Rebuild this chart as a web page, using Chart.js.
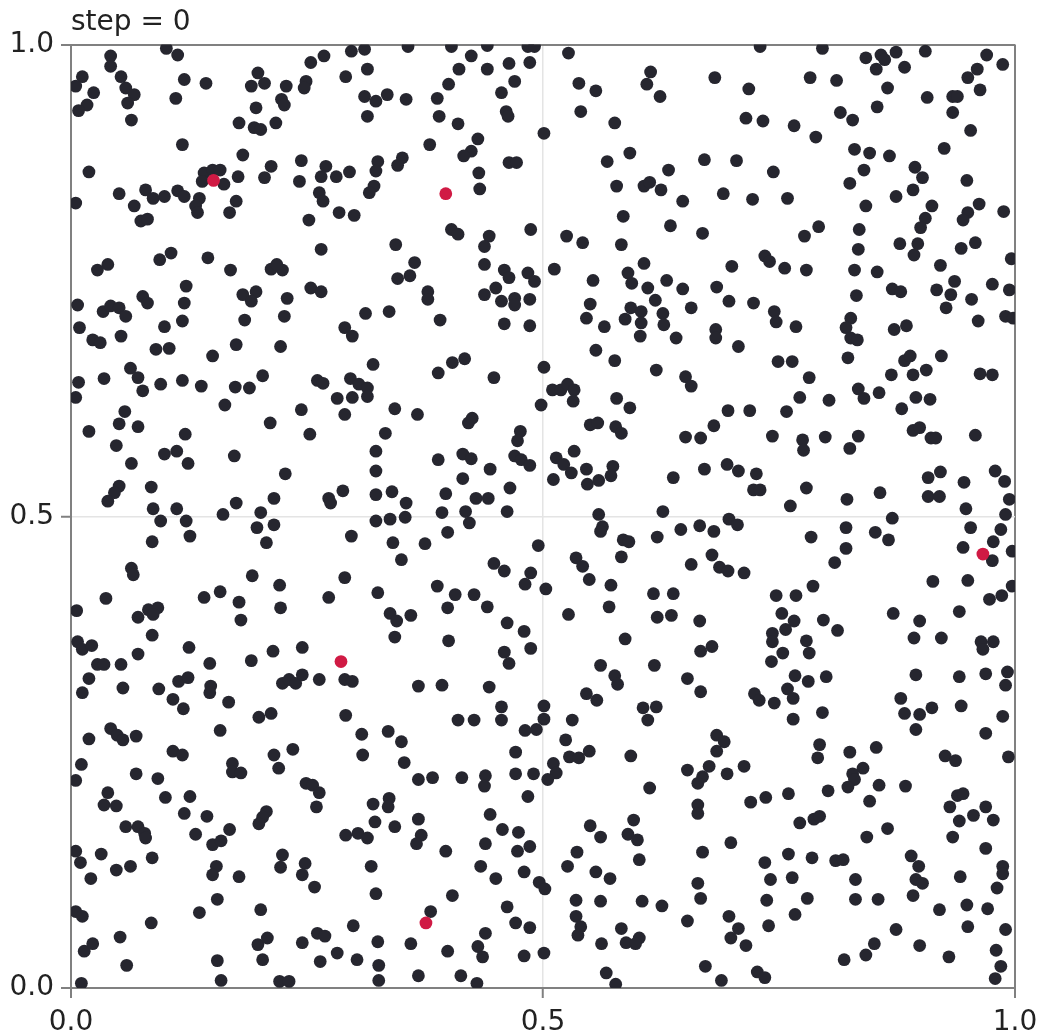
<!DOCTYPE html>
<html>
<head>
<meta charset="utf-8">
<script src="https://cdn.jsdelivr.net/npm/chart.js@4"></script>
<style>
  html, body { margin: 0; padding: 0; background: #ffffff; }
  #wrap { width: 1041px; height: 1034px; }
</style>
</head>
<body>
<div id="wrap"><canvas id="c" width="1041" height="1034"></canvas></div>
<script>
const titleText = 'step = 0';
const tickValues = [0, 0.5, 1];

// black particles [x, y]
const dots = [
[0.101,0.996],[0.113,0.989],[0.042,0.988],[0.042,0.977],[0.012,0.966],[0.005,0.956],[0.024,0.949],[0.017,0.936],[0.008,0.930],[0.053,0.966],
[0.058,0.954],[0.067,0.947],[0.060,0.938],[0.064,0.920],[0.120,0.963],[0.143,0.959],[0.111,0.943],[0.198,0.970],[0.205,0.959],[0.191,0.956],
[0.228,0.956],[0.223,0.942],[0.226,0.936],[0.196,0.933],[0.178,0.917],[0.194,0.912],[0.201,0.910],[0.217,0.917],[0.254,0.981],[0.268,0.988],
[0.249,0.961],[0.247,0.954],[0.297,0.993],[0.311,0.995],[0.314,0.974],[0.291,0.966],[0.311,0.945],[0.323,0.940],[0.314,0.924],[0.118,0.894],
[0.182,0.883],[0.019,0.865],[0.212,0.871],[0.205,0.859],[0.244,0.877],[0.242,0.855],[0.270,0.871],[0.265,0.860],[0.281,0.860],[0.295,0.865],
[0.325,0.876],[0.323,0.866],[0.321,0.850],[0.316,0.843],[0.141,0.864],[0.150,0.867],[0.158,0.867],[0.139,0.855],[0.162,0.852],[0.177,0.860],
[0.051,0.842],[0.079,0.846],[0.087,0.837],[0.099,0.839],[0.113,0.845],[0.120,0.839],[0.136,0.837],[0.132,0.829],[0.134,0.822],[0.175,0.834],
[0.168,0.822],[0.067,0.829],[0.074,0.813],[0.081,0.815],[0.005,0.832],[0.263,0.843],[0.267,0.834],[0.252,0.814],[0.284,0.822],[0.300,0.819],
[0.265,0.783],[0.145,0.774],[0.106,0.779],[0.094,0.772],[0.169,0.761],[0.212,0.762],[0.224,0.761],[0.218,0.767],[0.039,0.767],[0.028,0.761],
[0.122,0.744],[0.076,0.733],[0.081,0.726],[0.120,0.726],[0.182,0.735],[0.196,0.738],[0.191,0.728],[0.229,0.731],[0.254,0.742],[0.265,0.738],
[0.007,0.724],[0.034,0.717],[0.042,0.723],[0.051,0.721],[0.058,0.712],[0.118,0.707],[0.184,0.708],[0.226,0.712],[0.312,0.715],[0.009,0.700],
[0.023,0.687],[0.031,0.684],[0.053,0.691],[0.099,0.701],[0.090,0.677],[0.104,0.678],[0.175,0.682],[0.222,0.680],[0.290,0.700],[0.298,0.691],
[0.357,0.998],[0.403,0.998],[0.441,0.999],[0.484,0.998],[0.491,0.998],[0.424,0.988],[0.411,0.974],[0.441,0.974],[0.464,0.980],[0.486,0.981],
[0.470,0.961],[0.456,0.949],[0.400,0.958],[0.388,0.943],[0.355,0.942],[0.335,0.947],[0.390,0.924],[0.410,0.916],[0.461,0.929],[0.463,0.924],
[0.501,0.906],[0.380,0.894],[0.431,0.900],[0.424,0.887],[0.416,0.882],[0.351,0.880],[0.346,0.872],[0.464,0.875],[0.472,0.875],[0.432,0.864],
[0.433,0.847],[0.403,0.804],[0.410,0.799],[0.487,0.804],[0.443,0.797],[0.438,0.786],[0.344,0.788],[0.364,0.769],[0.359,0.755],[0.346,0.752],
[0.438,0.767],[0.459,0.761],[0.464,0.753],[0.484,0.758],[0.491,0.749],[0.512,0.762],[0.450,0.742],[0.438,0.735],[0.456,0.728],[0.470,0.731],
[0.470,0.724],[0.486,0.730],[0.378,0.738],[0.378,0.730],[0.337,0.717],[0.391,0.708],[0.459,0.704],[0.486,0.702],[0.527,0.991],[0.538,0.959],
[0.556,0.951],[0.540,0.929],[0.576,0.917],[0.614,0.971],[0.610,0.958],[0.624,0.945],[0.568,0.876],[0.592,0.885],[0.633,0.867],[0.578,0.850],
[0.607,0.850],[0.613,0.854],[0.625,0.846],[0.648,0.834],[0.585,0.818],[0.635,0.808],[0.525,0.797],[0.542,0.790],[0.583,0.788],[0.607,0.768],
[0.590,0.758],[0.594,0.747],[0.553,0.750],[0.611,0.742],[0.631,0.750],[0.648,0.741],[0.619,0.729],[0.550,0.725],[0.546,0.710],[0.593,0.721],
[0.604,0.717],[0.587,0.709],[0.604,0.705],[0.627,0.715],[0.628,0.703],[0.657,0.721],[0.565,0.701],[0.603,0.691],[0.641,0.689],[0.556,0.676],
[0.730,0.998],[0.796,0.996],[0.842,0.986],[0.858,0.989],[0.862,0.984],[0.853,0.974],[0.874,0.992],[0.883,0.976],[0.905,0.993],[0.970,0.989],
[0.987,0.979],[0.960,0.974],[0.950,0.965],[0.963,0.952],[0.934,0.945],[0.939,0.945],[0.934,0.928],[0.907,0.944],[0.865,0.954],[0.854,0.934],
[0.953,0.909],[0.925,0.890],[0.682,0.965],[0.718,0.953],[0.783,0.965],[0.811,0.962],[0.815,0.928],[0.828,0.920],[0.715,0.922],[0.733,0.919],
[0.766,0.914],[0.789,0.902],[0.830,0.889],[0.846,0.885],[0.867,0.882],[0.671,0.878],[0.705,0.877],[0.744,0.865],[0.840,0.867],[0.825,0.853],
[0.894,0.870],[0.902,0.859],[0.892,0.846],[0.874,0.839],[0.949,0.856],[0.691,0.842],[0.722,0.836],[0.759,0.837],[0.842,0.829],[0.912,0.829],
[0.905,0.816],[0.900,0.806],[0.962,0.831],[0.950,0.822],[0.945,0.814],[0.988,0.823],[0.669,0.800],[0.777,0.797],[0.792,0.807],[0.835,0.804],
[0.834,0.783],[0.878,0.789],[0.897,0.789],[0.893,0.777],[0.943,0.784],[0.958,0.790],[0.996,0.773],[0.735,0.776],[0.740,0.770],[0.756,0.763],
[0.779,0.761],[0.700,0.765],[0.830,0.761],[0.854,0.759],[0.921,0.766],[0.684,0.743],[0.697,0.728],[0.723,0.726],[0.745,0.717],[0.747,0.706],
[0.768,0.701],[0.683,0.698],[0.683,0.689],[0.707,0.680],[0.832,0.734],[0.870,0.741],[0.879,0.738],[0.917,0.740],[0.936,0.749],[0.932,0.735],
[0.927,0.721],[0.954,0.730],[0.976,0.746],[0.994,0.740],[0.990,0.712],[0.998,0.710],[0.961,0.707],[0.826,0.710],[0.821,0.700],[0.826,0.689],
[0.833,0.687],[0.872,0.698],[0.885,0.702],
[0.150,0.670],[0.008,0.642],[0.005,0.626],[0.035,0.646],[0.063,0.657],[0.071,0.647],[0.076,0.633],[0.095,0.640],[0.118,0.644],[0.138,0.638],
[0.163,0.618],[0.174,0.637],[0.189,0.636],[0.203,0.649],[0.211,0.599],[0.244,0.613],[0.253,0.587],[0.261,0.644],[0.267,0.641],[0.296,0.646],
[0.305,0.640],[0.314,0.636],[0.314,0.627],[0.282,0.625],[0.298,0.626],[0.290,0.608],[0.320,0.661],[0.323,0.569],[0.323,0.548],[0.323,0.523],
[0.323,0.495],[0.019,0.590],[0.057,0.611],[0.051,0.598],[0.071,0.595],[0.048,0.575],[0.064,0.556],[0.099,0.566],[0.112,0.569],[0.121,0.587],
[0.124,0.556],[0.173,0.564],[0.227,0.545],[0.051,0.532],[0.046,0.525],[0.039,0.516],[0.085,0.531],[0.087,0.508],[0.095,0.495],[0.112,0.508],
[0.122,0.495],[0.126,0.479],[0.086,0.473],[0.161,0.502],[0.175,0.514],[0.201,0.504],[0.215,0.519],[0.197,0.488],[0.215,0.491],[0.207,0.472],
[0.273,0.519],[0.275,0.514],[0.288,0.527],[0.297,0.479],[0.064,0.445],[0.066,0.438],[0.192,0.437],[0.221,0.427],[0.290,0.435],[0.037,0.413],
[0.006,0.400],[0.141,0.414],[0.158,0.420],[0.178,0.409],[0.180,0.390],[0.222,0.403],[0.273,0.414],[0.325,0.419],[0.082,0.401],[0.092,0.403],
[0.087,0.396],[0.071,0.393],[0.086,0.374],[0.007,0.367],[0.012,0.359],[0.022,0.363],[0.028,0.343],[0.035,0.343],[0.053,0.343],[0.071,0.354],
[0.125,0.361],[0.147,0.344],[0.191,0.347],[0.214,0.357],[0.245,0.361],
[0.417,0.667],[0.404,0.663],[0.389,0.652],[0.448,0.647],[0.501,0.658],[0.576,0.665],[0.620,0.655],[0.651,0.648],[0.657,0.638],[0.510,0.634],
[0.519,0.634],[0.526,0.640],[0.533,0.634],[0.532,0.622],[0.498,0.618],[0.578,0.625],[0.592,0.615],[0.343,0.614],[0.367,0.608],[0.421,0.599],
[0.425,0.604],[0.333,0.588],[0.476,0.590],[0.473,0.580],[0.550,0.597],[0.558,0.599],[0.577,0.595],[0.583,0.588],[0.651,0.584],[0.389,0.560],
[0.415,0.566],[0.424,0.561],[0.444,0.550],[0.415,0.540],[0.470,0.564],[0.477,0.560],[0.486,0.554],[0.465,0.530],[0.514,0.562],[0.522,0.555],
[0.530,0.546],[0.533,0.569],[0.511,0.539],[0.546,0.550],[0.547,0.534],[0.559,0.538],[0.574,0.553],[0.572,0.543],[0.638,0.541],[0.340,0.526],
[0.355,0.514],[0.354,0.499],[0.338,0.497],[0.397,0.524],[0.393,0.504],[0.399,0.483],[0.429,0.519],[0.442,0.519],[0.418,0.505],[0.422,0.493],
[0.462,0.505],[0.341,0.472],[0.350,0.454],[0.375,0.471],[0.495,0.469],[0.559,0.502],[0.563,0.489],[0.561,0.484],[0.585,0.475],[0.591,0.473],
[0.583,0.457],[0.627,0.505],[0.646,0.486],[0.621,0.478],[0.657,0.449],[0.448,0.450],[0.459,0.442],[0.487,0.440],[0.481,0.428],[0.503,0.423],
[0.535,0.456],[0.542,0.447],[0.549,0.433],[0.572,0.427],[0.570,0.404],[0.527,0.396],[0.617,0.418],[0.638,0.418],[0.621,0.393],[0.636,0.395],
[0.388,0.426],[0.407,0.417],[0.427,0.417],[0.399,0.403],[0.441,0.404],[0.338,0.397],[0.345,0.389],[0.360,0.395],[0.343,0.372],[0.400,0.368],
[0.462,0.387],[0.480,0.378],[0.487,0.360],[0.459,0.356],[0.464,0.344],[0.587,0.370],[0.561,0.342],[0.618,0.342],
[0.823,0.668],[0.883,0.665],[0.889,0.670],[0.922,0.670],[0.749,0.664],[0.764,0.664],[0.782,0.647],[0.772,0.626],[0.803,0.623],[0.834,0.635],
[0.840,0.625],[0.856,0.631],[0.869,0.650],[0.892,0.650],[0.906,0.655],[0.895,0.626],[0.910,0.624],[0.880,0.614],[0.963,0.651],[0.976,0.650],
[0.696,0.612],[0.719,0.612],[0.758,0.611],[0.681,0.596],[0.667,0.583],[0.743,0.585],[0.775,0.581],[0.776,0.570],[0.799,0.584],[0.834,0.585],
[0.825,0.572],[0.892,0.591],[0.899,0.594],[0.911,0.583],[0.916,0.583],[0.958,0.586],[0.671,0.550],[0.695,0.555],[0.707,0.548],[0.726,0.545],
[0.723,0.528],[0.730,0.528],[0.779,0.530],[0.762,0.511],[0.822,0.518],[0.857,0.525],[0.908,0.541],[0.921,0.547],[0.908,0.521],[0.920,0.521],
[0.946,0.536],[0.979,0.548],[0.989,0.537],[0.994,0.518],[0.948,0.508],[0.990,0.502],[0.666,0.490],[0.697,0.497],[0.706,0.491],[0.681,0.484],
[0.784,0.478],[0.821,0.488],[0.821,0.466],[0.809,0.451],[0.852,0.483],[0.866,0.475],[0.870,0.498],[0.953,0.488],[0.985,0.486],[0.945,0.467],
[0.977,0.473],[0.976,0.453],[0.997,0.463],[0.997,0.426],[0.679,0.459],[0.687,0.446],[0.696,0.442],[0.713,0.440],[0.913,0.431],[0.950,0.432],
[0.786,0.426],[0.747,0.416],[0.768,0.416],[0.973,0.412],[0.986,0.416],[0.871,0.397],[0.941,0.399],[0.899,0.389],[0.753,0.397],[0.766,0.389],
[0.757,0.380],[0.743,0.376],[0.743,0.367],[0.797,0.390],[0.812,0.379],[0.779,0.368],[0.782,0.355],[0.754,0.355],[0.742,0.346],[0.666,0.389],
[0.679,0.362],[0.667,0.357],[0.893,0.371],[0.922,0.371],[0.964,0.367],[0.977,0.367],[0.966,0.359],
[0.290,0.327],[0.298,0.325],[0.019,0.328],[0.012,0.313],[0.055,0.318],[0.093,0.317],[0.114,0.325],[0.124,0.329],[0.108,0.306],[0.119,0.296],
[0.148,0.320],[0.147,0.313],[0.167,0.303],[0.224,0.323],[0.231,0.327],[0.238,0.323],[0.245,0.332],[0.263,0.327],[0.199,0.287],[0.212,0.291],
[0.291,0.289],[0.308,0.269],[0.309,0.247],[0.158,0.273],[0.019,0.264],[0.042,0.275],[0.049,0.268],[0.055,0.263],[0.069,0.267],[0.108,0.251],
[0.118,0.247],[0.011,0.237],[0.005,0.220],[0.069,0.227],[0.092,0.222],[0.171,0.238],[0.171,0.229],[0.180,0.228],[0.215,0.247],[0.220,0.233],
[0.235,0.253],[0.249,0.217],[0.256,0.215],[0.263,0.207],[0.260,0.192],[0.320,0.195],[0.322,0.176],[0.039,0.207],[0.035,0.194],[0.048,0.193],
[0.100,0.202],[0.126,0.203],[0.120,0.185],[0.144,0.182],[0.132,0.163],[0.168,0.168],[0.150,0.152],[0.159,0.156],[0.207,0.187],[0.203,0.181],
[0.199,0.174],[0.058,0.171],[0.071,0.171],[0.078,0.164],[0.079,0.159],[0.086,0.138],[0.032,0.142],[0.005,0.145],[0.010,0.133],[0.021,0.116],
[0.048,0.125],[0.063,0.129],[0.154,0.129],[0.150,0.120],[0.178,0.118],[0.224,0.141],[0.222,0.128],[0.248,0.132],[0.245,0.120],[0.258,0.107],
[0.291,0.162],[0.304,0.164],[0.314,0.159],[0.318,0.129],[0.323,0.100],[0.155,0.094],[0.136,0.080],[0.201,0.083],[0.005,0.081],[0.012,0.076],
[0.085,0.069],[0.052,0.054],[0.014,0.039],[0.023,0.047],[0.059,0.024],[0.011,0.005],[0.155,0.029],[0.159,0.008],[0.198,0.046],[0.208,0.053],
[0.203,0.030],[0.221,0.007],[0.231,0.007],[0.245,0.048],[0.261,0.058],[0.269,0.055],[0.264,0.028],[0.282,0.037],[0.299,0.066],[0.303,0.030],
[0.325,0.049],[0.326,0.024],[0.326,0.008],
[0.368,0.320],[0.393,0.321],[0.443,0.319],[0.456,0.298],[0.456,0.284],[0.410,0.284],[0.427,0.284],[0.501,0.299],[0.501,0.285],[0.493,0.274],
[0.481,0.273],[0.531,0.284],[0.524,0.263],[0.546,0.312],[0.557,0.305],[0.576,0.331],[0.579,0.322],[0.606,0.297],[0.620,0.298],[0.611,0.284],
[0.653,0.328],[0.336,0.272],[0.350,0.261],[0.353,0.239],[0.471,0.250],[0.528,0.245],[0.538,0.244],[0.549,0.251],[0.511,0.238],[0.514,0.228],
[0.505,0.221],[0.593,0.246],[0.368,0.221],[0.383,0.223],[0.414,0.223],[0.439,0.225],[0.438,0.214],[0.471,0.227],[0.490,0.227],[0.484,0.203],
[0.613,0.212],[0.653,0.231],[0.337,0.201],[0.336,0.192],[0.343,0.171],[0.368,0.179],[0.371,0.162],[0.366,0.153],[0.397,0.145],[0.444,0.184],
[0.457,0.168],[0.474,0.165],[0.439,0.153],[0.473,0.145],[0.486,0.150],[0.434,0.129],[0.450,0.116],[0.480,0.123],[0.496,0.112],[0.502,0.105],
[0.550,0.172],[0.561,0.160],[0.596,0.178],[0.590,0.163],[0.600,0.157],[0.602,0.136],[0.536,0.144],[0.526,0.129],[0.556,0.123],[0.571,0.116],
[0.535,0.093],[0.561,0.092],[0.605,0.092],[0.626,0.087],[0.653,0.071],[0.404,0.098],[0.381,0.081],[0.462,0.086],[0.471,0.069],[0.486,0.064],
[0.439,0.058],[0.360,0.047],[0.399,0.039],[0.431,0.044],[0.436,0.033],[0.480,0.034],[0.501,0.037],[0.368,0.013],[0.413,0.013],[0.430,0.005],
[0.535,0.076],[0.540,0.065],[0.537,0.056],[0.562,0.047],[0.583,0.063],[0.588,0.048],[0.602,0.053],[0.598,0.047],[0.567,0.016],[0.577,0.004],
[0.895,0.332],[0.941,0.330],[0.969,0.333],[0.992,0.335],[0.990,0.321],[0.767,0.331],[0.759,0.317],[0.765,0.307],[0.781,0.325],[0.800,0.330],
[0.667,0.314],[0.724,0.312],[0.729,0.305],[0.745,0.302],[0.765,0.285],[0.796,0.292],[0.879,0.307],[0.883,0.291],[0.899,0.290],[0.912,0.297],
[0.895,0.274],[0.943,0.299],[0.987,0.288],[0.969,0.270],[0.993,0.245],[0.926,0.246],[0.937,0.241],[0.684,0.268],[0.692,0.261],[0.684,0.251],
[0.676,0.235],[0.669,0.224],[0.664,0.217],[0.695,0.227],[0.713,0.235],[0.793,0.258],[0.791,0.244],[0.825,0.250],[0.853,0.255],[0.839,0.233],
[0.828,0.227],[0.830,0.221],[0.823,0.213],[0.856,0.215],[0.884,0.214],[0.846,0.198],[0.802,0.209],[0.760,0.206],[0.720,0.197],[0.736,0.202],
[0.664,0.194],[0.664,0.185],[0.772,0.175],[0.787,0.179],[0.793,0.182],[0.843,0.160],[0.865,0.169],[0.939,0.204],[0.945,0.206],[0.931,0.192],
[0.941,0.177],[0.956,0.183],[0.969,0.192],[0.977,0.178],[0.934,0.160],[0.969,0.148],[0.699,0.154],[0.669,0.144],[0.735,0.133],[0.760,0.142],
[0.785,0.138],[0.810,0.135],[0.818,0.136],[0.741,0.115],[0.764,0.117],[0.831,0.115],[0.737,0.093],[0.780,0.095],[0.767,0.078],[0.831,0.094],
[0.855,0.094],[0.890,0.140],[0.898,0.129],[0.895,0.115],[0.902,0.111],[0.892,0.098],[0.942,0.118],[0.987,0.129],[0.987,0.121],[0.981,0.106],
[0.920,0.083],[0.949,0.088],[0.971,0.084],[0.950,0.065],[0.990,0.062],[0.874,0.062],[0.899,0.045],[0.930,0.033],[0.980,0.040],[0.985,0.023],
[0.979,0.010],[0.851,0.047],[0.842,0.035],[0.819,0.030],[0.697,0.076],[0.707,0.063],[0.699,0.053],[0.715,0.045],[0.739,0.066],[0.672,0.023],
[0.689,0.008],[0.727,0.017],[0.735,0.011],[0.664,0.111],[0.667,0.095]
];

// highlighted (red) particles [x, y]
const highlighted = [
[0.151,0.856],[0.397,0.842],[0.966,0.460],[0.286,0.346],[0.376,0.069]
];

const toPts = arr => arr.map(p => ({x: p[0], y: p[1]}));

const AXIS = '#808080';
const GRID = '#e4e4e4';
const FONT = 'DejaVu Sans';

function gridColor(ctx) {
  return (ctx.tick && ctx.tick.value === 0.5) ? GRID : AXIS;
}
function gridWidth(ctx) {
  return (ctx.tick && ctx.tick.value === 0.5) ? 1.5 : 2;
}

new Chart(document.getElementById('c'), {
  type: 'scatter',
  data: {
    datasets: [
      {
        label: 'highlighted',
        data: toPts(highlighted),
        backgroundColor: '#d01a44',
        borderWidth: 0,
        pointRadius: 6.4,
        pointHoverRadius: 6.4
      },
      {
        label: 'particles',
        data: toPts(dots),
        backgroundColor: '#26262f',
        borderWidth: 0,
        pointRadius: 6.4,
        pointHoverRadius: 6.4
      }
    ]
  },
  options: {
    responsive: false,
    animation: false,
    devicePixelRatio: 1,
    layout: { padding: { left: 0, right: 26, top: 0, bottom: 0 } },
    plugins: {
      legend: { display: false },
      tooltip: { enabled: false },
      title: {
        display: true,
        text: titleText,
        align: 'start',
        fullSize: false,
        color: '#222222',
        font: { family: FONT, size: 28, weight: 'normal' },
        padding: { top: 6, bottom: 5 }
      }
    },
    scales: {
      x: {
        type: 'linear',
        min: 0,
        max: 1,
        afterFit: s => { s.height = 46; s.paddingLeft = 0; s.paddingRight = 0; },
        afterBuildTicks: s => { s.ticks = tickValues.map(v => ({ value: v })); },
        ticks: {
          color: '#222222',
          font: { family: FONT, size: 28 },
          padding: 8,
          maxRotation: 0,
          callback: v => Number(v).toFixed(1)
        },
        grid: { color: gridColor, lineWidth: gridWidth, tickColor: AXIS, tickWidth: 2, tickLength: 10 },
        border: { display: true, color: AXIS, width: 2 }
      },
      y: {
        type: 'linear',
        min: 0,
        max: 1,
        afterFit: s => { s.width = 71; s.paddingTop = 0; s.paddingBottom = 0; },
        afterBuildTicks: s => { s.ticks = tickValues.map(v => ({ value: v })); },
        ticks: {
          color: '#222222',
          font: { family: FONT, size: 28 },
          padding: 7,
          callback: v => Number(v).toFixed(1)
        },
        grid: { color: gridColor, lineWidth: gridWidth, tickColor: AXIS, tickWidth: 2, tickLength: 10 },
        border: { display: true, color: AXIS, width: 2 }
      }
    }
  }
});
</script>
</body>
</html>
